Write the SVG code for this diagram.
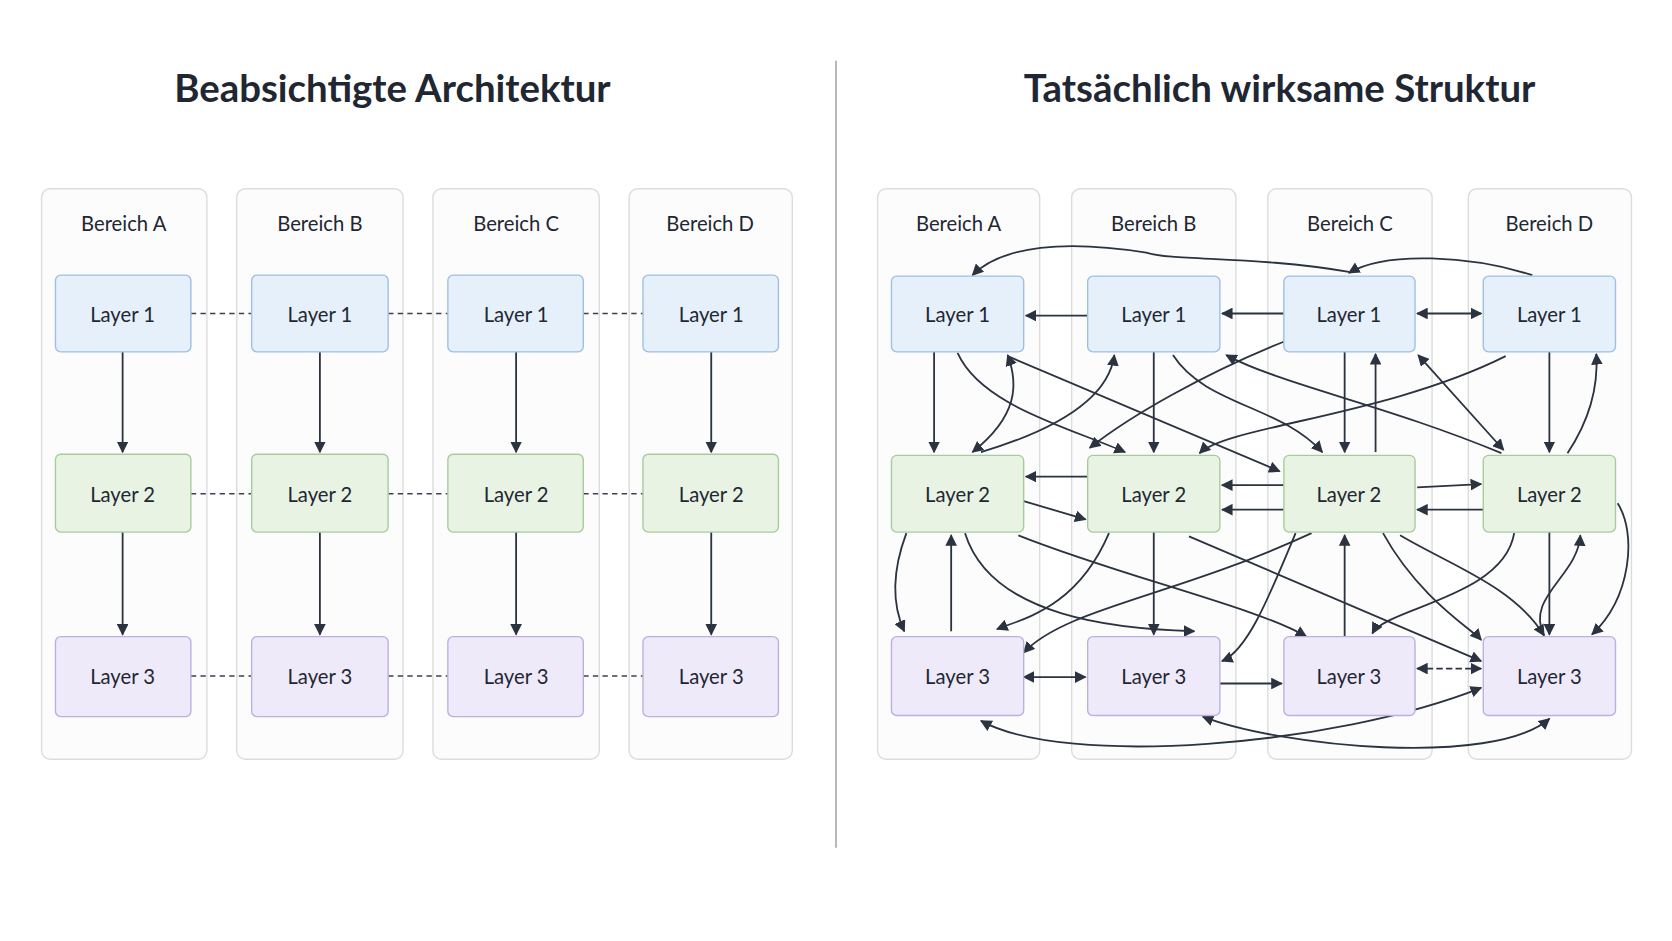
<svg xmlns="http://www.w3.org/2000/svg" width="1672" height="941" viewBox="0 0 1672 941">
<defs>
<marker id="ah" viewBox="0 0 10 10" refX="9" refY="5" markerWidth="11" markerHeight="11" markerUnits="userSpaceOnUse" orient="auto-start-reverse"><path d="M0,0 L10,5 L0,10 z" fill="#2b3340"/></marker>
<style>
text{font-family:Lato,"Liberation Sans",sans-serif;fill:#1f2733}
.t{font-size:36px;font-weight:bold;text-anchor:middle}
.h{font-size:19px;text-anchor:middle}
.n{font-size:19px;text-anchor:middle;dominant-baseline:central}
.col{fill:#fcfcfc;stroke:#dcdcdc;stroke-width:1.3}
.l1{fill:#e6f0fb;stroke:#9fbfe3;stroke-width:1.3}
.l2{fill:#e8f3e3;stroke:#a7cc9b;stroke-width:1.3}
.l3{fill:#efeafa;stroke:#bcb0e0;stroke-width:1.3}
.e{fill:none;stroke:#2b3340;stroke-width:1.7}
.d{fill:none;stroke:#3a4250;stroke-width:1.5;stroke-dasharray:5 4}
</style>
</defs>
<rect width="1672" height="941" fill="#fff"/>
<g transform="scale(1.06633)">
<text class="t" x="368" y="96">Beabsichtigte Architektur</text>
<text class="t" x="1200" y="96">Tatsächlich wirksame Struktur</text>
<line x1="784" y1="57" x2="784" y2="795" stroke="#999" stroke-width="1.3"/>
<g id="left-columns">
<rect class="col" x="39" y="177" width="155" height="535" rx="8"/><text class="h" x="116" y="217">Bereich A</text>
<rect class="col" x="222" y="177" width="156" height="535" rx="8"/><text class="h" x="300" y="217">Bereich B</text>
<rect class="col" x="406" y="177" width="156" height="535" rx="8"/><text class="h" x="484" y="217">Bereich C</text>
<rect class="col" x="590" y="177" width="153" height="535" rx="8"/><text class="h" x="666" y="217">Bereich D</text>
</g>
<g id="right-columns">
<rect class="col" x="823" y="177" width="152" height="535" rx="8"/><text class="h" x="899" y="217">Bereich A</text>
<rect class="col" x="1005" y="177" width="154" height="535" rx="8"/><text class="h" x="1082" y="217">Bereich B</text>
<rect class="col" x="1189" y="177" width="154" height="535" rx="8"/><text class="h" x="1266" y="217">Bereich C</text>
<rect class="col" x="1377" y="177" width="153" height="535" rx="8"/><text class="h" x="1453" y="217">Bereich D</text>
</g>
<g id="connectors">
<path class="d" d="M179,294H236M364,294H420M547,294H603M179,463H236M364,463H420M547,463H603M179,634H236M364,634H420M547,634H603"/>
<g marker-end="url(#ah)">
<path class="e" d="M115,330V424"/><path class="e" d="M115,499V595"/>
<path class="e" d="M300,330V424"/><path class="e" d="M300,499V595"/>
<path class="e" d="M484,330V424"/><path class="e" d="M484,499V595"/>
<path class="e" d="M667,330V424"/><path class="e" d="M667,499V595"/>
<path class="e" d="M1020,296H962"/>
<path class="e" d="M1204,294H1146"/>
<path class="e" marker-start="url(#ah)" d="M1329,294H1389"/>
<path class="e" d="M876,330V424"/>
<path class="e" d="M1082,330V424"/>
<path class="e" d="M1261,330V424"/>
<path class="e" d="M1290,424V332"/>
<path class="e" d="M1453,330V424"/>
<path class="e" d="M1470,425Q1500,380 1497,332"/>
<path class="e" d="M1265,255C1180,240 1100,245 1075,237C1000,225 940,230 912,258"/>
<path class="e" d="M1437,258C1380,240 1300,235 1265,256"/>
<path class="e" d="M850,500C835,540 838,570 848,592"/>
<path class="e" d="M892,592V502"/>
<path class="e" marker-start="url(#ah)" d="M960,635H1018"/>
<path class="e" d="M1082,499V595"/>
<path class="e" d="M1144,641H1202"/>
<path class="e" d="M1261,597V502"/>
<path class="e" marker-start="url(#ah)" stroke-dasharray="6 3" d="M1329,627H1389"/>
<path class="e" d="M1453,499V595"/>
<path class="e" d="M1517,472C1535,500 1530,560 1493,595"/>
<path class="e" d="M1448,596C1430,560 1480,540 1482,502"/>
<path class="e" d="M1020,447H962"/>
<path class="e" d="M960,470L1018,487"/>
<path class="e" d="M1204,455H1146"/>
<path class="e" d="M1204,478H1146"/>
<path class="e" d="M1329,457L1389,454"/>
<path class="e" d="M1391,478H1329"/>
<path class="e" marker-start="url(#ah)" d="M920,676C1000,720 1250,700 1389,645"/>
<path class="e" marker-start="url(#ah)" d="M1128,672C1200,700 1400,720 1453,674"/>
<path class="e" d="M945,334L1200,442"/>
<path class="e" d="M898,331C920,380 1000,400 1055,424"/>
<path class="e" marker-start="url(#ah)" d="M912,424C955,390 955,360 945,333"/>
<path class="e" d="M920,424C1000,400 1040,370 1045,333"/>
<path class="e" d="M1100,333C1130,380 1200,380 1240,424"/>
<path class="e" d="M1205,320C1130,350 1060,390 1022,420"/>
<path class="e" d="M1412,334C1300,390 1150,400 1125,425"/>
<path class="e" d="M1408,425C1300,380 1200,360 1150,333"/>
<path class="e" marker-start="url(#ah)" d="M1330,333L1410,422"/>
<path class="e" d="M1040,500C1010,570 960,580 935,590"/>
<path class="e" d="M1230,500C1100,560 1000,570 960,612"/>
<path class="e" d="M905,500C930,580 1050,590 1120,592"/>
<path class="e" d="M955,502C1050,540 1180,570 1225,597"/>
<path class="e" d="M1115,503L1389,620"/>
<path class="e" d="M1297,500C1330,560 1380,590 1389,600"/>
<path class="e" d="M1420,500C1410,560 1300,570 1287,594"/>
<path class="e" d="M1215,500C1190,560 1170,610 1146,620"/>
<path class="e" d="M1313,502C1360,530 1420,550 1448,596"/>
</g>
</g>
<g id="left-nodes">
<g id="LA1"><rect class="l1" x="52" y="258" width="127" height="72" rx="5"/><text class="n" x="115" y="294">Layer 1</text></g>
<g id="LB1"><rect class="l1" x="236" y="258" width="128" height="72" rx="5"/><text class="n" x="300" y="294">Layer 1</text></g>
<g id="LC1"><rect class="l1" x="420" y="258" width="127" height="72" rx="5"/><text class="n" x="484" y="294">Layer 1</text></g>
<g id="LD1"><rect class="l1" x="603" y="258" width="127" height="72" rx="5"/><text class="n" x="667" y="294">Layer 1</text></g>
<g id="LA2"><rect class="l2" x="52" y="426" width="127" height="73" rx="5"/><text class="n" x="115" y="463">Layer 2</text></g>
<g id="LB2"><rect class="l2" x="236" y="426" width="128" height="73" rx="5"/><text class="n" x="300" y="463">Layer 2</text></g>
<g id="LC2"><rect class="l2" x="420" y="426" width="127" height="73" rx="5"/><text class="n" x="484" y="463">Layer 2</text></g>
<g id="LD2"><rect class="l2" x="603" y="426" width="127" height="73" rx="5"/><text class="n" x="667" y="463">Layer 2</text></g>
<g id="LA3"><rect class="l3" x="52" y="597" width="127" height="75" rx="5"/><text class="n" x="115" y="634">Layer 3</text></g>
<g id="LB3"><rect class="l3" x="236" y="597" width="128" height="75" rx="5"/><text class="n" x="300" y="634">Layer 3</text></g>
<g id="LC3"><rect class="l3" x="420" y="597" width="127" height="75" rx="5"/><text class="n" x="484" y="634">Layer 3</text></g>
<g id="LD3"><rect class="l3" x="603" y="597" width="127" height="75" rx="5"/><text class="n" x="667" y="634">Layer 3</text></g>
</g>
<g id="right-nodes">
<g id="RA1"><rect class="l1" x="836" y="259" width="124" height="71" rx="5"/><text class="n" x="898" y="294">Layer 1</text></g>
<g id="RB1"><rect class="l1" x="1020" y="259" width="124" height="71" rx="5"/><text class="n" x="1082" y="294">Layer 1</text></g>
<g id="RC1"><rect class="l1" x="1204" y="259" width="123" height="71" rx="5"/><text class="n" x="1265" y="294">Layer 1</text></g>
<g id="RD1"><rect class="l1" x="1391" y="259" width="124" height="71" rx="5"/><text class="n" x="1453" y="294">Layer 1</text></g>
<g id="RA2"><rect class="l2" x="836" y="427" width="124" height="72" rx="5"/><text class="n" x="898" y="463">Layer 2</text></g>
<g id="RB2"><rect class="l2" x="1020" y="427" width="124" height="72" rx="5"/><text class="n" x="1082" y="463">Layer 2</text></g>
<g id="RC2"><rect class="l2" x="1204" y="427" width="123" height="72" rx="5"/><text class="n" x="1265" y="463">Layer 2</text></g>
<g id="RD2"><rect class="l2" x="1391" y="427" width="124" height="72" rx="5"/><text class="n" x="1453" y="463">Layer 2</text></g>
<g id="RA3"><rect class="l3" x="836" y="597" width="124" height="74" rx="5"/><text class="n" x="898" y="634">Layer 3</text></g>
<g id="RB3"><rect class="l3" x="1020" y="597" width="124" height="74" rx="5"/><text class="n" x="1082" y="634">Layer 3</text></g>
<g id="RC3"><rect class="l3" x="1204" y="597" width="123" height="74" rx="5"/><text class="n" x="1265" y="634">Layer 3</text></g>
<g id="RD3"><rect class="l3" x="1391" y="597" width="124" height="74" rx="5"/><text class="n" x="1453" y="634">Layer 3</text></g>
</g>
</g>
</svg>
